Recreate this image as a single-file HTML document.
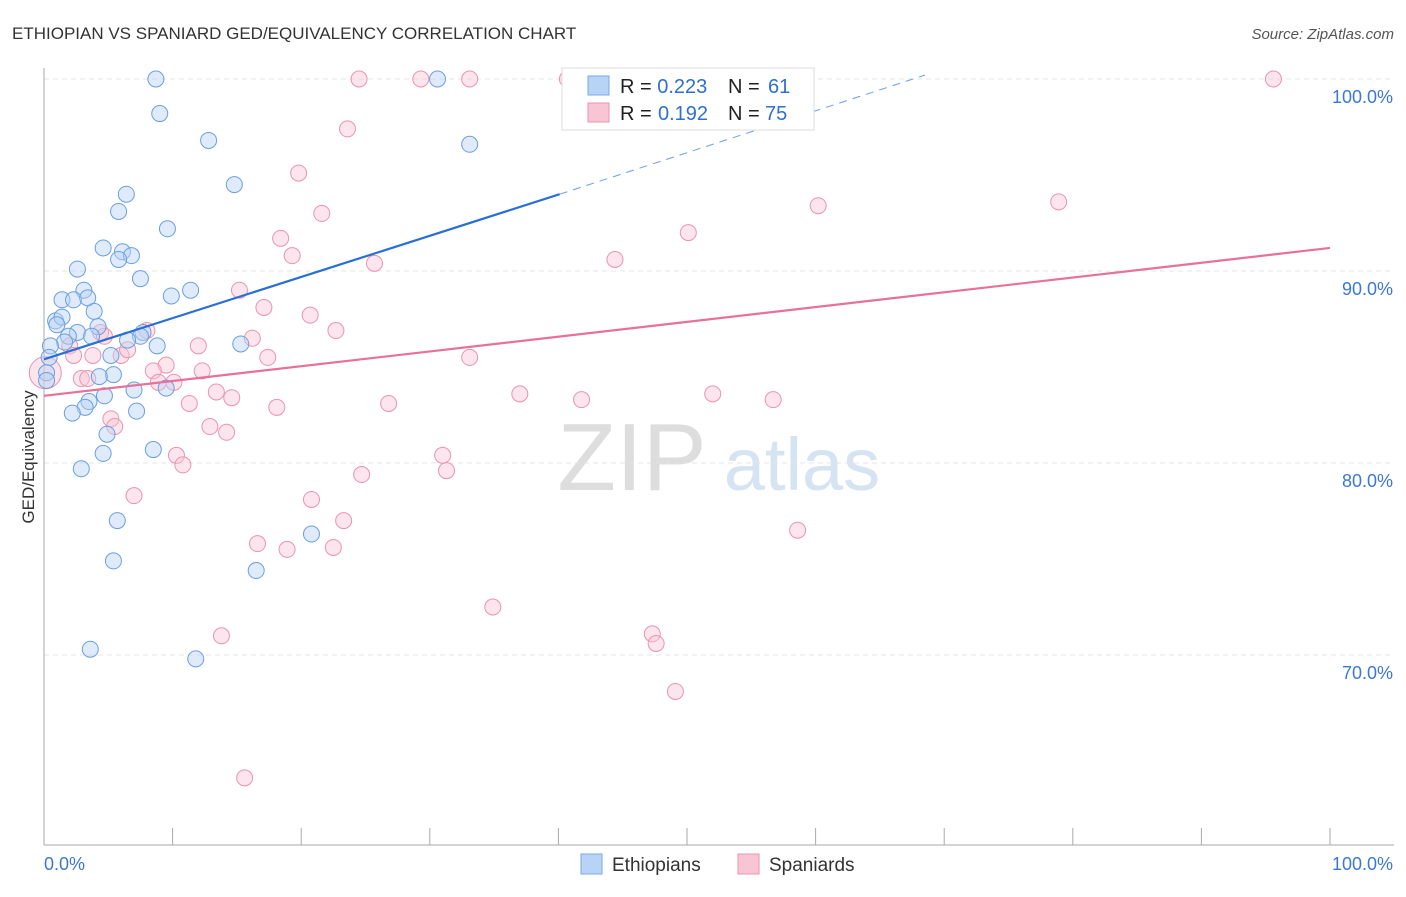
<!DOCTYPE html>
<html><head><meta charset="utf-8"><style>
body{margin:0;background:#fff;font-family:"Liberation Sans",sans-serif}
svg text{font-family:"Liberation Sans",sans-serif}
</style></head><body>
<svg id="c" width="1406" height="892" viewBox="0 0 1406 892">
<text x="12" y="39" font-size="17" fill="#333">ETHIOPIAN VS SPANIARD GED/EQUIVALENCY CORRELATION CHART</text>
<text x="1394" y="39" font-size="15" fill="#555" font-style="italic" text-anchor="end">Source: ZipAtlas.com</text>
<text x="34" y="457" font-size="17" fill="#333" text-anchor="middle" transform="rotate(-90 34 457)">GED/Equivalency</text>
<g>
<text x="632" y="490" font-size="96" fill="#ddd" font-family="Liberation Serif" text-anchor="middle">ZIP</text>
<text x="802" y="490" font-size="74" fill="#d6e3f3" text-anchor="middle">atlas</text>
</g>
<g id="grid"></g><g id="axes"></g><g id="pts"></g><g id="trend"></g>
<g>
<rect x="562" y="68" width="252" height="62" fill="#fff" stroke="#ddd"/>
<rect x="588" y="76" width="21" height="19" fill="#b7d3f5" stroke="#7aa9e6"/>
<rect x="588" y="103" width="21" height="19" fill="#f8c5d4" stroke="#ec93ae"/>
<text x="620" y="93" font-size="20" fill="#222">R = <tspan fill="#2f6fce">0.223</tspan><tspan x="728">N = </tspan><tspan x="768" fill="#2f6fce">61</tspan></text>
<text x="620" y="120" font-size="20" fill="#222">R = <tspan x="658" fill="#2f6fce">0.192</tspan><tspan x="728">N = </tspan><tspan x="765" fill="#2f6fce">75</tspan></text>
</g>
<g>
<rect x="581" y="854" width="21" height="20" fill="#b7d3f5" stroke="#7aa9e6"/>
<text x="612" y="871" font-size="19" fill="#333">Ethiopians</text>
<rect x="738" y="854" width="21" height="20" fill="#f8c5d4" stroke="#ec93ae"/>
<text x="769" y="871" font-size="19" fill="#333">Spaniards</text>
</g>
</svg>
<script>
const yTicks=[100,90,80,70];
const yTickLabels=["100.0%","90.0%","80.0%","70.0%"];
const xTickLabels=["0.0%","100.0%"];
const blueX=[8.7,30.6,9,12.8,33.1,14.8,6.4,5.8,9.6,4.6,6.1,6.8,5.8,2.6,7.5,3.1,11.4,9.9,1.4,2.3,3.4,3.9,0.9,1.4,1,4.2,2.6,1.9,3.7,1.6,7.7,7.5,6.5,8.8,15.3,0.5,0.4,5.2,0.2,5.4,4.3,0.2,7,9.5,4.7,3.5,3.2,2.2,7.2,4.9,8.5,4.6,2.9,5.7,20.8,5.4,16.5,3.6,11.8];
const blueY=[100,100,98.2,96.8,96.6,94.5,94,93.1,92.2,91.2,91,90.8,90.6,90.1,89.6,89,89,88.7,88.5,88.5,88.6,87.9,87.4,87.6,87.2,87.1,86.8,86.6,86.6,86.3,86.8,86.6,86.4,86.1,86.2,86.1,85.5,85.6,84.7,84.6,84.5,84.3,83.8,83.9,83.5,83.2,82.9,82.6,82.7,81.5,80.7,80.5,79.7,77,76.3,74.9,74.4,70.3,69.8];
const pinkX=[24.5,29.3,33.1,40.7,95.6,23.6,19.8,21.6,60.2,78.9,18.4,50.1,19.3,25.7,44.4,15.2,17.1,20.7,22.7,8,4.4,4.7,12,16.2,2,2.3,3.8,6,6.5,17.4,33.1,9.5,8.5,12.3,2.9,3.4,8.9,10.1,13.4,14.6,37,52,11.3,26.8,41.8,56.7,18.1,5.2,5.5,12.9,14.2,10.3,10.8,31,31.3,24.7,7,20.8,23.3,58.6,16.6,18.9,22.5,34.9,13.8,47.3,47.6,49.1,15.6,0.1];
const pinkY=[100,100,100,100,100,97.4,95.1,93,93.4,93.6,91.7,92,90.8,90.4,90.6,89,88.1,87.7,86.9,86.9,86.8,86.6,86.1,86.5,86.1,85.6,85.6,85.6,85.9,85.5,85.5,85.1,84.8,84.8,84.4,84.4,84.2,84.2,83.7,83.4,83.6,83.6,83.1,83.1,83.3,83.3,82.9,82.3,81.9,81.9,81.6,80.4,79.9,80.4,79.6,79.4,78.3,78.1,77,76.5,75.8,75.5,75.6,72.5,71,71.1,70.6,68.1,63.6,84.7];
const blueTrend=[[0,85.4],[40.1,94]];
const blueDash=[[40.1,94],[68.5,100.2]];
const pinkTrend=[[0,83.5],[100,91.2]];
const X=v=>44+v*12.86, Y=v=>79+(100-v)*19.2;
const NS="http://www.w3.org/2000/svg";
function mk(p,t,a){const e=document.createElementNS(NS,t);for(const k in a)e.setAttribute(k,a[k]);p.appendChild(e);return e;}
const grid=document.getElementById('grid'),axes=document.getElementById('axes'),pts=document.getElementById('pts'),tr=document.getElementById('trend');
yTicks.forEach((t,i)=>{
 const l=mk(grid,'line',{x1:44,x2:1394,y1:Y(t),y2:Y(t),stroke:'#e4e4e4','stroke-dasharray':'5,4'});
 
 
 const tx=mk(grid,'text',{x:1393,y:Y(t)+24,'font-size':18,fill:'#3b78d0','text-anchor':'end'});tx.textContent=yTickLabels[i];
 
 
});
const ax=mk(axes,'line',{x1:44,x2:44,y1:68,y2:845,stroke:'#aaa'});


const bx=mk(axes,'line',{x1:44,x2:1394,y1:845,y2:845,stroke:'#aaa'});


for(let i=1;i<=10;i++){const t=mk(axes,'line',{x1:X(i*10),x2:X(i*10),y1:828,y2:845,stroke:'#aaa'});
 
 }
[[0,'start',44],[100,'end',1393]].forEach((d,i)=>{const t=mk(axes,'text',{x:d[2],y:870,'font-size':18,fill:'#3b78d0','text-anchor':d[1]});t.textContent=xTickLabels[i];
 
 });
function dots(xs,ys,fill,stroke,name){xs.forEach((x,i)=>{const r=(name==='spaniard-point'&&i===xs.length-1)?16:8;
 const c=mk(pts,'circle',{cx:X(x),cy:Y(ys[i]),r:r,fill:fill,'fill-opacity':0.45,stroke:stroke,'stroke-width':1});
 
 });}
dots(pinkX,pinkY,'#f8c5d4','#ec93ae','spaniard-point');
dots(blueX,blueY,'#b7d3f5','#6a9fe2','ethiopian-point');
const b1=mk(tr,'line',{x1:X(blueTrend[0][0]),y1:Y(blueTrend[0][1]),x2:X(blueTrend[1][0]),y2:Y(blueTrend[1][1]),stroke:'#2a6fd6','stroke-width':2.2});


const b2=mk(tr,'line',{x1:X(blueDash[0][0]),y1:Y(blueDash[0][1]),x2:X(blueDash[1][0]),y2:Y(blueDash[1][1]),stroke:'#6a9fe2','stroke-width':1,'stroke-dasharray':'8,6'});


const p1=mk(tr,'line',{x1:X(pinkTrend[0][0]),y1:Y(pinkTrend[0][1]),x2:X(pinkTrend[1][0]),y2:Y(pinkTrend[1][1]),stroke:'#e8709a','stroke-width':2.2});


</script>
</body></html>
